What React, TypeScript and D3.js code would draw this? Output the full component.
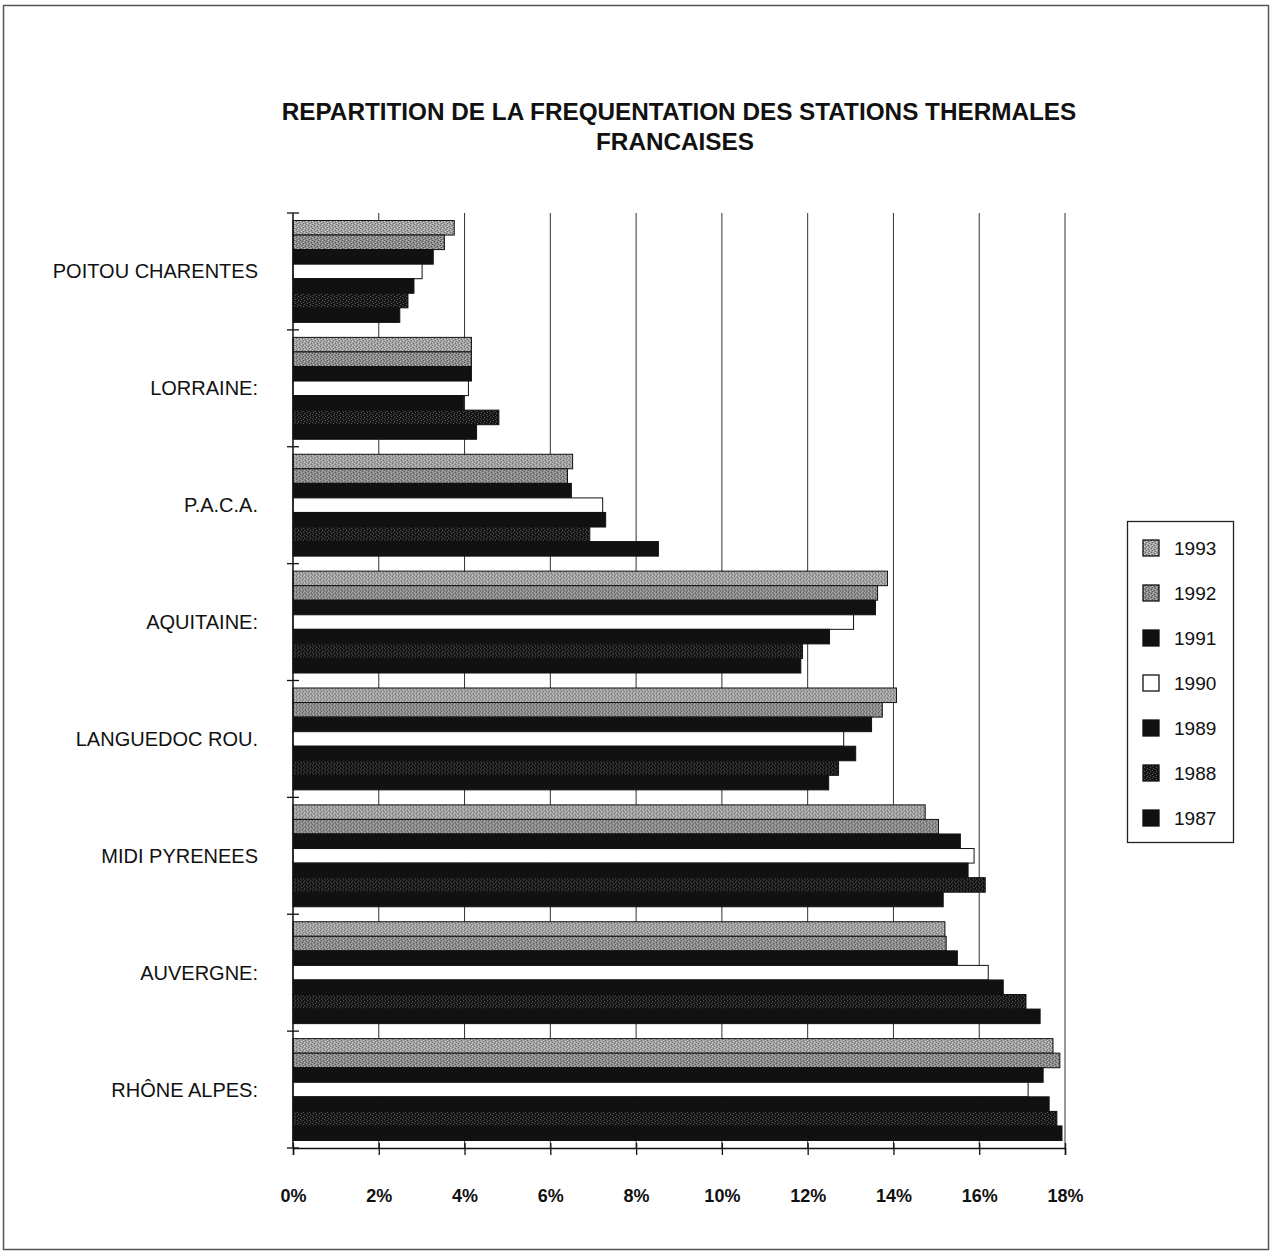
import { useEffect, useRef } from "react";
import * as d3 from "d3";

// Data (share of visits, %)
const regions = [
  "POITOU CHARENTES",
  "LORRAINE:",
  "P.A.C.A.",
  "AQUITAINE:",
  "LANGUEDOC ROU.",
  "MIDI PYRENEES",
  "AUVERGNE:",
  "RHÔNE ALPES:",
];
const years = ["1993", "1992", "1991", "1990", "1989", "1988", "1987"];

const v1993 = [3.76, 4.16, 6.52, 13.86, 14.07, 14.74, 15.2, 17.72];
const v1992 = [3.53, 4.16, 6.4, 13.63, 13.74, 15.05, 15.23, 17.88];
const v1991 = [3.27, 4.16, 6.49, 13.58, 13.49, 15.56, 15.49, 17.49];
const v1990 = [3.01, 4.09, 7.22, 13.07, 12.84, 15.88, 16.21, 17.14];
const v1989 = [2.82, 3.98, 7.29, 12.51, 13.12, 15.74, 16.56, 17.63];
const v1988 = [2.68, 4.8, 6.92, 11.88, 12.72, 16.14, 17.09, 17.81];
const v1987 = [2.49, 4.28, 8.52, 11.84, 12.49, 15.16, 17.42, 17.93];

const xTicks = [0, 2, 4, 6, 8, 10, 12, 14, 16, 18];

const FONT = "'Liberation Sans', Arial, sans-serif";

export default function App() {
  const svgRef = useRef<SVGSVGElement>(null);

  useEffect(() => {
    if (!svgRef.current) return;
    const svg = d3.select(svgRef.current);
    svg.selectAll("*").remove();

    const series = [v1993, v1992, v1991, v1990, v1989, v1988, v1987];
    const fills: Record<string, string> = {
      "1993": "url(#p1993)",
      "1992": "url(#p1992)",
      "1991": "#111",
      "1990": "#fff",
      "1989": "#111",
      "1988": "url(#p1988)",
      "1987": "#111",
    };

    // textures for the hatched fills
    const defs = svg.append("defs");
    const makePattern = (id: string, base: string, light: string, dark: string) => {
      const p = defs
        .append("pattern")
        .attr("id", id)
        .attr("width", 6)
        .attr("height", 4)
        .attr("patternUnits", "userSpaceOnUse");
      p.append("rect").attr("width", 6).attr("height", 4).attr("fill", base);
      [[0, 0], [3, 1], [1, 2], [4, 3]].forEach(([a, b]) =>
        p.append("rect").attr("x", a).attr("y", b).attr("width", 1).attr("height", 1).attr("fill", light)
      );
      [[2, 0], [5, 1], [0, 3], [3, 2]].forEach(([a, b]) =>
        p.append("rect").attr("x", a).attr("y", b).attr("width", 1).attr("height", 1).attr("fill", dark)
      );
    };
    makePattern("p1993", "#a0a0a0", "#d4d4d4", "#686868");
    makePattern("p1992", "#8a8a8a", "#c0c0c0", "#505050");
    makePattern("p1988", "#1a1a1a", "#5a5a5a", "#000");

    // outer frame
    svg
      .append("rect")
      .attr("x", 3.5)
      .attr("y", 5.5)
      .attr("width", 1265)
      .attr("height", 1244)
      .attr("fill", "#fff")
      .attr("stroke", "#555")
      .attr("stroke-width", 1.5);

    // title
    const title = svg
      .append("text")
      .attr("text-anchor", "middle")
      .attr("font-family", FONT)
      .attr("font-weight", "bold")
      .attr("font-size", 24.3)
      .attr("fill", "#111");
    title.append("tspan").attr("x", 679).attr("y", 120).text("REPARTITION DE LA FREQUENTATION DES STATIONS THERMALES");
    title.append("tspan").attr("x", 675).attr("y", 150).text("FRANCAISES");

    // scales
    const x = d3.scaleLinear().domain([0, 18]).range([293, 1065]);
    const y0 = d3.scaleBand().domain(regions).range([213, 1148]);
    const y1 = d3
      .scaleBand()
      .domain(years)
      .range([7.5, y0.bandwidth() - 7.5]);

    // gridlines
    svg
      .append("g")
      .selectAll("line")
      .data(xTicks.slice(1))
      .join("line")
      .attr("x1", (d) => x(d))
      .attr("x2", (d) => x(d))
      .attr("y1", 213)
      .attr("y2", 1148)
      .attr("stroke", "#333")
      .attr("stroke-width", 1);

    // bars
    const groups = svg
      .append("g")
      .selectAll("g")
      .data(regions)
      .join("g")
      .attr("transform", (d) => `translate(0,${y0(d)})`);

    groups
      .selectAll("rect")
      .data((_, i) => years.map((yr, k) => ({ yr, v: series[k][i] })))
      .join("rect")
      .attr("x", x(0))
      .attr("y", (d) => y1(d.yr)!)
      .attr("width", (d) => x(d.v) - x(0))
      .attr("height", y1.bandwidth())
      .attr("fill", (d) => fills[d.yr])
      .attr("stroke", "#111")
      .attr("stroke-width", 1);

    // left axis with category labels
    svg
      .append("line")
      .attr("x1", 293)
      .attr("x2", 293)
      .attr("y1", 213)
      .attr("y2", 1148)
      .attr("stroke", "#111")
      .attr("stroke-width", 1.5);
    svg
      .append("g")
      .selectAll("line")
      .data([...regions.map((r) => y0(r)!), 1148])
      .join("line")
      .attr("x1", 287)
      .attr("x2", 299)
      .attr("y1", (d) => d)
      .attr("y2", (d) => d)
      .attr("stroke", "#111")
      .attr("stroke-width", 1.3);
    svg
      .append("g")
      .selectAll("text")
      .data(regions)
      .join("text")
      .attr("x", 258)
      .attr("y", (d) => y0(d)! + y0.bandwidth() / 2)
      .attr("dy", "0.35em")
      .attr("text-anchor", "end")
      .attr("font-family", FONT)
      .attr("font-size", 20)
      .attr("fill", "#111")
      .text((d) => d);

    // bottom axis
    const axis = svg
      .append("g")
      .attr("transform", "translate(0,1148)")
      .call(
        d3
          .axisBottom(x)
          .tickValues(xTicks)
          .tickSize(7)
          .tickPadding(34)
          .tickFormat((d) => `${d}%`)
      );
    axis.select(".domain").attr("stroke", "#111").attr("stroke-width", 1.5);
    axis.selectAll(".tick line").attr("stroke", "#111").attr("y1", -5).attr("stroke-width", 1.3);
    axis
      .selectAll(".tick text")
      .attr("font-family", FONT)
      .attr("font-weight", "bold")
      .attr("font-size", 18)
      .attr("fill", "#111");

    // legend
    const lg = svg.append("g");
    lg.append("rect")
      .attr("x", 1127.5)
      .attr("y", 521.5)
      .attr("width", 106)
      .attr("height", 321)
      .attr("fill", "#fff")
      .attr("stroke", "#222")
      .attr("stroke-width", 1.3);
    const ly = d3.scalePoint().domain(years).range([548, 818]);
    const items = lg
      .selectAll("g")
      .data(years)
      .join("g")
      .attr("transform", (d) => `translate(1143,${ly(d)})`);
    items
      .append("rect")
      .attr("x", 0)
      .attr("y", -8)
      .attr("width", 16)
      .attr("height", 16)
      .attr("fill", (d) => fills[d])
      .attr("stroke", "#111")
      .attr("stroke-width", 1.3);
    items
      .append("text")
      .attr("x", 31)
      .attr("dy", "0.35em")
      .attr("font-family", FONT)
      .attr("font-size", 19)
      .attr("fill", "#111")
      .text((d) => d);
  }, []);

  return (
    <svg
      ref={svgRef}
      width={1275}
      height={1256}
      style={{ position: "absolute", left: 0, top: 0, background: "#fff" }}
    />
  );
}
